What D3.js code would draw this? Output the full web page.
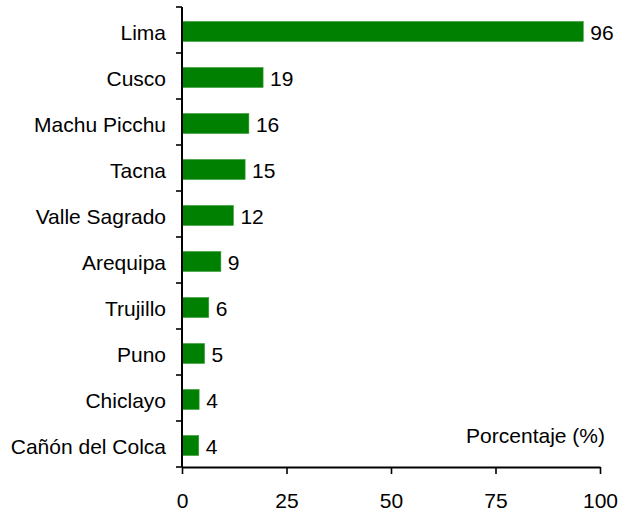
<!DOCTYPE html>
<html>
<head>
<meta charset="utf-8">
<script src="https://cdn.jsdelivr.net/npm/d3@7"></script>
<style>
  html, body { margin: 0; padding: 0; background: #fff; }
  svg { display: block; }
  text { font-family: "Liberation Sans", Arial, sans-serif; fill: #000; }
</style>
</head>
<body>
<svg id="chart" width="618" height="516"></svg>
<script>
const categories = ["Lima", "Cusco", "Machu Picchu", "Tacna", "Valle Sagrado", "Arequipa", "Trujillo", "Puno", "Chiclayo", "Cañón del Colca"];
const values = [96, 19.4, 16, 15.1, 12.3, 9.3, 6.4, 5.4, 4.1, 4];
const xTicks = [0, 25, 50, 75, 100];
const axisTitle = "Porcentaje (%)";

const svg = d3.select("#chart");
const margin = { left: 182, right: 18, top: 7, bottom: 49 };
const W = 618, H = 516;
const fontSize = 21;

const x = d3.scaleLinear().domain([0, 100]).range([margin.left, W - margin.right]);
const y = d3.scaleBand().domain(categories).range([margin.top, H - margin.bottom]).paddingInner(0.565).paddingOuter(0.2825);
const yb = d3.scaleBand().domain(categories).range([margin.top, H - margin.bottom]);

// bars
svg.append("g").selectAll("rect").data(categories).join("rect")
  .attr("x", x(0))
  .attr("y", (d) => y(d) + 1.5)
  .attr("width", (d, i) => x(values[i]) - x(0))
  .attr("height", y.bandwidth())
  .attr("fill", "#008000")
  .attr("stroke", "#3a9a3a")
  .attr("stroke-width", 0.6);

// value labels
svg.append("g").selectAll("text").data(categories).join("text")
  .attr("x", (d, i) => x(values[i]) + 7)
  .attr("y", (d) => y(d) + 2 + y.bandwidth() / 2)
  .attr("dy", "0.36em")
  .style("font-size", fontSize + "px")
  .text((d, i) => Math.round(values[i]));

// y axis line and ticks at band boundaries
const yAxisG = svg.append("g");
yAxisG.append("line")
  .attr("x1", x(0)).attr("x2", x(0))
  .attr("y1", margin.top).attr("y2", H - margin.bottom)
  .attr("stroke", "#000").attr("stroke-width", 2);
const bounds = categories.map((c) => yb(c)).concat([yb.range()[1]]);
yAxisG.selectAll("line.tick").data(bounds).join("line")
  .attr("class", "tick")
  .attr("x1", x(0) - 6).attr("x2", x(0))
  .attr("y1", (d) => d).attr("y2", (d) => d)
  .attr("stroke", "#000").attr("stroke-width", 1.6);

// category labels
svg.append("g").selectAll("text").data(categories).join("text")
  .attr("x", x(0) - 16)
  .attr("y", (d) => yb(d) + yb.bandwidth() / 2 + 2.5)
  .attr("dy", "0.36em")
  .attr("text-anchor", "end")
  .style("font-size", fontSize + "px")
  .text((d) => d);

// x axis
const xAxis = d3.axisBottom(x).tickValues(xTicks).tickSize(7).tickPadding(19).tickSizeOuter(0);
const xg = svg.append("g").attr("transform", `translate(0,${H - margin.bottom})`).call(xAxis);
xg.select(".domain").attr("stroke", "#000").attr("stroke-width", 2);
xg.selectAll(".tick line").attr("stroke", "#000").attr("stroke-width", 1.6);
xg.selectAll(".tick text")
  .style("font-size", fontSize + "px")
  .style("font-family", "'Liberation Sans', Arial, sans-serif")
  .attr("fill", "#000");

// axis title
svg.append("text")
  .attr("x", 605)
  .attr("y", 443)
  .attr("text-anchor", "end")
  .style("font-size", fontSize + "px")
  .text(axisTitle);
</script>
</body>
</html>
